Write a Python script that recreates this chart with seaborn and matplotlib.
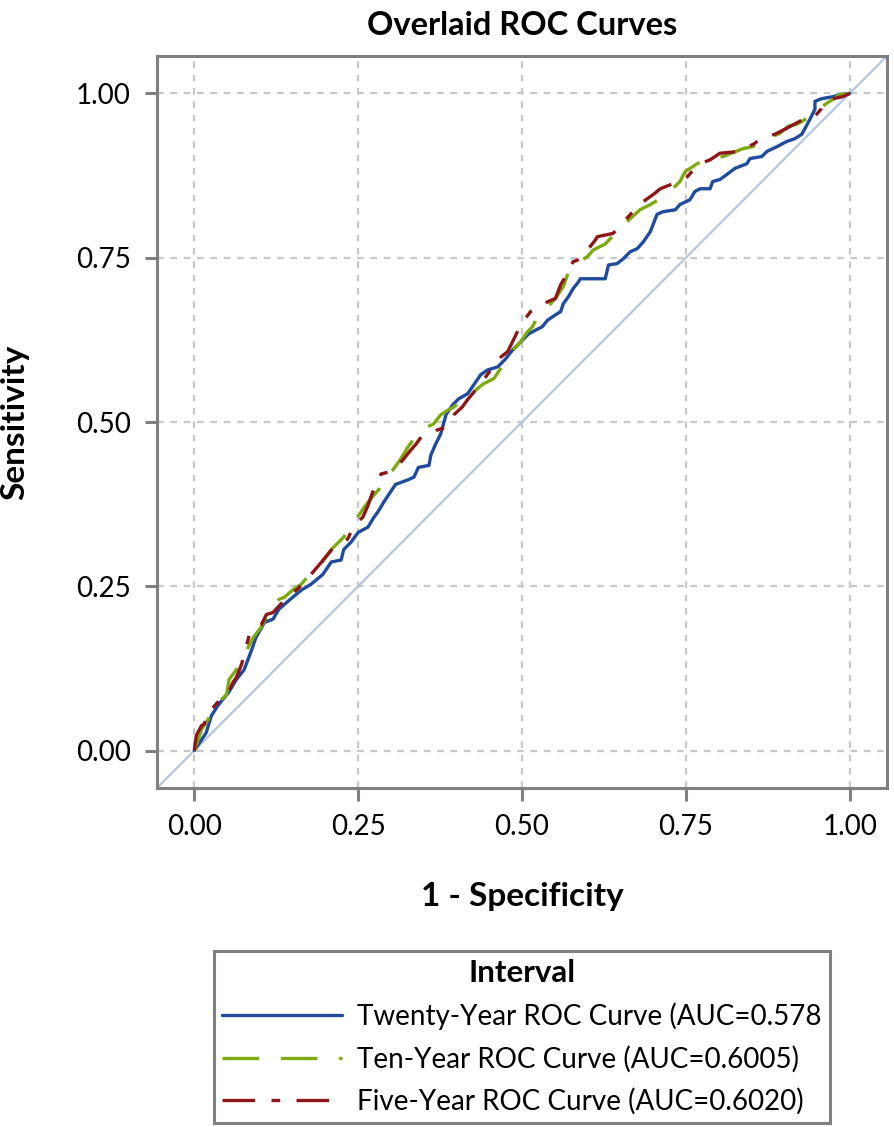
import numpy as np
import pandas as pd
import matplotlib
matplotlib.use("Agg")
import matplotlib.pyplot as plt
import seaborn as sns

# ROC points (1 - specificity, sensitivity)
twenty_fpr = [0.0, 0.018, 0.026, 0.037, 0.052, 0.064, 0.076, 0.087, 0.094, 0.107, 0.120, 0.129,
              0.145, 0.163, 0.178, 0.196, 0.209, 0.224, 0.228, 0.239, 0.250, 0.265, 0.274, 0.280,
              0.289, 0.297, 0.307, 0.326, 0.335, 0.342, 0.358, 0.361, 0.368, 0.376, 0.384, 0.394,
              0.403, 0.417, 0.437, 0.447, 0.463, 0.475, 0.486, 0.498, 0.510, 0.521, 0.531, 0.539,
              0.551, 0.559, 0.563, 0.571, 0.578, 0.586, 0.589, 0.627, 0.632, 0.645, 0.654, 0.665,
              0.676, 0.685, 0.696, 0.706, 0.715, 0.734, 0.741, 0.756, 0.764, 0.772, 0.787, 0.791,
              0.802, 0.813, 0.825, 0.843, 0.848, 0.866, 0.874, 0.889, 0.904, 0.916, 0.927, 0.932,
              0.939, 0.947, 0.947, 0.957, 0.974, 0.985, 1.0]
twenty_tpr = [0.0, 0.027, 0.053, 0.070, 0.088, 0.108, 0.123, 0.152, 0.172, 0.195, 0.200, 0.215,
              0.229, 0.244, 0.253, 0.268, 0.287, 0.290, 0.306, 0.317, 0.332, 0.340, 0.355, 0.363,
              0.378, 0.390, 0.405, 0.412, 0.416, 0.431, 0.434, 0.450, 0.466, 0.482, 0.511, 0.526,
              0.535, 0.543, 0.572, 0.579, 0.584, 0.596, 0.610, 0.622, 0.634, 0.640, 0.645, 0.655,
              0.663, 0.668, 0.680, 0.691, 0.703, 0.713, 0.718, 0.718, 0.739, 0.741, 0.748, 0.759,
              0.764, 0.774, 0.790, 0.816, 0.820, 0.823, 0.831, 0.838, 0.851, 0.855, 0.855, 0.866,
              0.869, 0.877, 0.886, 0.893, 0.901, 0.904, 0.912, 0.919, 0.927, 0.931, 0.938, 0.947,
              0.960, 0.976, 0.988, 0.992, 0.995, 0.998, 1.0]

ten_fpr = [0.0, 0.011, 0.021, 0.029, 0.049, 0.053, 0.064, 0.072, 0.082, 0.090, 0.102, 0.110,
           0.117, 0.129, 0.137, 0.151, 0.163, 0.170, 0.190, 0.209, 0.228, 0.244, 0.259, 0.269,
           0.282, 0.292, 0.303, 0.315, 0.326, 0.335, 0.346, 0.365, 0.376, 0.387, 0.396, 0.411,
           0.426, 0.441, 0.457, 0.467, 0.478, 0.487, 0.498, 0.508, 0.516, 0.525, 0.539, 0.551,
           0.563, 0.571, 0.584, 0.600, 0.609, 0.627, 0.652, 0.680, 0.696, 0.711, 0.729, 0.741,
           0.749, 0.767, 0.782, 0.807, 0.837, 0.852, 0.874, 0.893, 0.906, 0.919, 0.935, 0.950,
           0.962, 0.985, 1.0]
ten_tpr = [0.0, 0.032, 0.047, 0.066, 0.085, 0.108, 0.123, 0.137, 0.157, 0.172, 0.188, 0.203,
           0.221, 0.230, 0.233, 0.245, 0.253, 0.261, 0.280, 0.306, 0.325, 0.348, 0.370, 0.383,
           0.398, 0.419, 0.427, 0.444, 0.462, 0.474, 0.488, 0.497, 0.511, 0.518, 0.523, 0.535,
           0.546, 0.558, 0.566, 0.581, 0.596, 0.610, 0.622, 0.637, 0.645, 0.663, 0.675, 0.688,
           0.706, 0.729, 0.741, 0.752, 0.762, 0.771, 0.797, 0.823, 0.831, 0.840, 0.854, 0.866,
           0.881, 0.893, 0.899, 0.904, 0.916, 0.919, 0.931, 0.939, 0.950, 0.953, 0.962, 0.970,
           0.983, 0.998, 1.0]

five_fpr = [0.0, 0.003, 0.011, 0.015, 0.021, 0.029, 0.038, 0.052, 0.059, 0.064, 0.072, 0.079,
            0.084, 0.091, 0.102, 0.110, 0.120, 0.132, 0.140, 0.148, 0.160, 0.167, 0.178, 0.195,
            0.209, 0.234, 0.244, 0.257, 0.265, 0.272, 0.277, 0.285, 0.297, 0.307, 0.318, 0.330,
            0.338, 0.346, 0.361, 0.371, 0.384, 0.396, 0.409, 0.417, 0.437, 0.452, 0.464, 0.478,
            0.487, 0.498, 0.513, 0.525, 0.539, 0.551, 0.559, 0.571, 0.578, 0.589, 0.600, 0.612,
            0.615, 0.639, 0.660, 0.680, 0.700, 0.711, 0.731, 0.752, 0.769, 0.787, 0.802, 0.833,
            0.855, 0.863, 0.886, 0.904, 0.928, 0.944, 0.957, 0.962, 0.974, 0.989, 1.0]
five_tpr = [0.0, 0.023, 0.038, 0.040, 0.061, 0.066, 0.076, 0.088, 0.104, 0.111, 0.131, 0.157,
            0.177, 0.184, 0.191, 0.207, 0.210, 0.223, 0.229, 0.238, 0.248, 0.261, 0.268, 0.288,
            0.305, 0.322, 0.343, 0.355, 0.373, 0.393, 0.404, 0.421, 0.424, 0.431, 0.442, 0.457,
            0.466, 0.477, 0.482, 0.488, 0.492, 0.511, 0.523, 0.534, 0.558, 0.579, 0.596, 0.607,
            0.625, 0.648, 0.668, 0.672, 0.683, 0.688, 0.709, 0.729, 0.744, 0.748, 0.762, 0.777,
            0.782, 0.787, 0.810, 0.832, 0.846, 0.855, 0.863, 0.873, 0.892, 0.899, 0.909, 0.912,
            0.924, 0.931, 0.938, 0.947, 0.960, 0.962, 0.977, 0.988, 0.992, 0.995, 1.0]

series_labels = ["Twenty-Year ROC Curve (AUC=0.578",
                 "Ten-Year ROC Curve (AUC=0.6005)",
                 "Five-Year ROC Curve (AUC=0.6020)"]
ticks = [0.0, 0.25, 0.5, 0.75, 1.0]
tick_labels = ["0.00", "0.25", "0.50", "0.75", "1.00"]

sns.set_theme(style="white")
plt.rcParams["font.family"] = ["Lato", "DejaVu Sans"]
plt.rcParams["text.color"] = "black"
plt.rcParams["axes.labelcolor"] = "black"

fig = plt.figure(figsize=(8.94, 11.27), dpi=100)
ax = fig.add_axes([0.1756, 0.3008, 0.8166, 0.6495])

# reference diagonal
ax.axline((0, 0), (1, 1), color="#B4C6E0", lw=1.6, zorder=1)

curves = [
    (twenty_fpr, twenty_tpr, "#1F4B9E", "-"),
    (ten_fpr, ten_tpr, "#7DAA0F", (0, (11, 6.5))),
    (five_fpr, five_tpr, "#8E1616", (0, (9.8, 4.9, 2.6, 4.9))),
]
for (fpr, tpr, col, ls), lab in zip(curves, series_labels):
    df = pd.DataFrame({"fpr": fpr, "tpr": tpr})
    sns.lineplot(data=df, x="fpr", y="tpr", ax=ax, color=col, lw=2.4,
                 linestyle=ls, label=lab, sort=False, estimator=None, zorder=3)

ax.set_xlim(-0.057, 1.057)
ax.set_ylim(-0.057, 1.057)
ax.set_xticks(ticks)
ax.set_xticklabels(tick_labels)
ax.set_yticks(ticks)
ax.set_yticklabels(tick_labels)
ax.grid(True, linestyle=(0, (3, 3)), color="#C8C8C8", lw=1.6, zorder=0)
for sp in ax.spines.values():
    sp.set_color("#808080")
    sp.set_linewidth(2.2)
ax.tick_params(axis="both", direction="out", length=9, width=2.2, color="#808080",
               labelsize=20, labelcolor="black", pad=10, bottom=True, left=True)

ax.set_title("Overlaid ROC Curves", fontsize=23.5, fontweight="bold", pad=15, color="black")
ax.set_xlabel("1 - Specificity", fontsize=24, fontweight="bold")
ax.set_ylabel("Sensitivity", fontsize=24, fontweight="bold")
ax.xaxis.set_label_coords(0.5, -(897 - 788) / 732)
ax.yaxis.set_label_coords(-(157 - 15) / 730, 0.5)
ax.xaxis.label.set_va("center")
ax.yaxis.label.set_va("center")

handles, labels = ax.get_legend_handles_labels()
ax.legend_.remove()
leg = fig.legend(handles, labels, loc="upper center", bbox_to_anchor=(522 / 894, 1 - 951 / 1127),
                 title="Interval", fontsize=20, title_fontproperties={"weight": "bold", "size": 22.5},
                 frameon=True, fancybox=False, edgecolor="#808080", framealpha=1,
                 handlelength=4.3, handletextpad=0.55, borderpad=0.3, labelspacing=0.55,
                 borderaxespad=0)
leg.get_frame().set_linewidth(2.2)

fig.savefig("out.png", dpi=100)
